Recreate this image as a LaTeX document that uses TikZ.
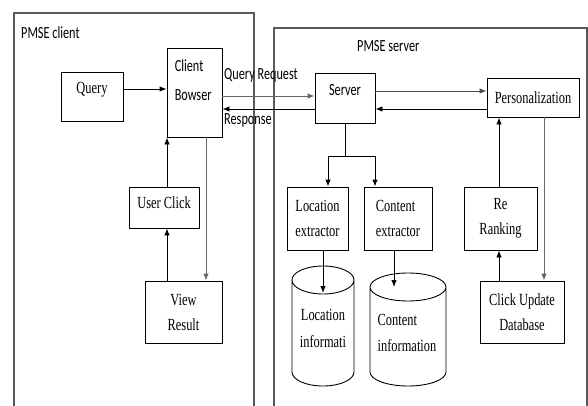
\documentclass[tikz,border=0pt]{standalone}
\usepackage{fontspec}
\setmainfont{Liberation Serif}[FakeStretch=0.73]
\newfontfamily\calibrifont{Carlito}[FakeStretch=0.72]
\usetikzlibrary{arrows.meta}

\tikzset{
	block/.style={draw, line width=0.9pt, fill=white, inner sep=2pt, align=center, font=\fontsize{17}{25}\selectfont},
	dbtext/.style={inner sep=0pt, align=center, font=\fontsize{17}{27}\selectfont},
	arr/.style={line width=0.9pt, -{Latex[length=7pt, width=5.5pt]}},
	frame/.style={draw=black!65, line width=1.2pt},
	tag/.style={inner sep=0pt, anchor=west, font=\calibrifont\fontsize{17}{19}\selectfont},
}

\begin{document}
\begin{tikzpicture}[x=1pt, y=1pt]
		\useasboundingbox (0, 0) rectangle (588, 405);

		\draw[frame] (14, -2) -- (14, 392) -- (254, 392) -- (254, -2);
		\draw[frame] (274, -2) -- (274, 377) -- (587, 377) -- (587, -2);
		\node[tag] (clienttag) at (21, 372) {PMSE client};
		\node[tag] (servertag) at (357, 359) {PMSE server};

		\node[block, minimum width=62, minimum height=49, text depth=17pt] (query) at (92, 308.5) {Query};
		\node[block, minimum width=55, minimum height=89] (browser) at (194.5, 312.5) {};
		\node[tag, anchor=north west, align=left, font=\calibrifont\fontsize{17}{29}\selectfont] (browsertext) at ([shift={(8, -12)}]browser.north west) {Client\\Bowser};
		\node[block, minimum width=70, minimum height=41, text depth=10pt] (click) at (164, 197.5) {User Click};
		\node[block, minimum width=77, minimum height=62] (view) at (183.5, 93) {View\\Result};

		\node[block, minimum width=60, minimum height=50, text depth=16pt, font=\calibrifont\fontsize{17}{19}\selectfont] (server) at (345, 307) {Server};
		\node[block, minimum width=92, minimum height=39] (person) at (533, 307.5) {Personalization};
		\node[block, minimum width=61, minimum height=63] (locext) at (317.5, 186.5) {Location\\extractor};
		\node[block, minimum width=68, minimum height=63, align=left] (conext) at (398, 186.5) {Content\\extractor};
		\node[block, minimum width=73, minimum height=63] (rerank) at (500.5, 186.5) {Re\\Ranking};
		\node[block, minimum width=84, minimum height=62] (clickdb) at (522, 93) {Click Update\\Database};

		% the two stores
		\draw[line width=0.9pt, fill=white] (292, 125) -- (292, 33) arc[start angle=180, end angle=360, x radius=31, y radius=14] -- (354, 125) arc[start angle=0, end angle=180, x radius=31, y radius=14] arc[start angle=180, end angle=360, x radius=31, y radius=14];
		\draw[line width=0.9pt, fill=white] (370, 118) -- (370, 33) arc[start angle=180, end angle=360, x radius=38, y radius=14] -- (446, 118) arc[start angle=0, end angle=180, x radius=38, y radius=14] arc[start angle=180, end angle=360, x radius=38, y radius=14];
		\coordinate (locin) at (323, 112);
		\coordinate (conin) at (394, 118);
		\node[dbtext] (locinfo) at (323, 76.5) {Location\\informati};
		\node[dbtext, align=left, font=\fontsize{17}{26}\selectfont] (coninfo) at (407, 72) {Content\\information};

		\draw[arr] ([yshift=7.5]query.east) -- ([yshift=3.5]browser.west);
		\draw[arr, black!60] ([yshift=-3.5]browser.east) -- ([yshift=2]server.west);
		\draw[arr] ([yshift=-11]server.west) -- ([yshift=-16.5]browser.east);
		\node[tag] (reqtag) at (224, 330) {Query Request};
		\node[tag] (resptag) at (224, 285) {Response};

		\draw[arr, black!70] ([yshift=7]server.east) -- ([yshift=6.5]person.west);
		\draw[arr] ([yshift=-11.5]person.west) -- ([yshift=-11]server.east);

		\draw[line width=0.9pt] (server.south) -- ++(0, -33) coordinate (split);
		\draw[arr] (split) -| ([xshift=10.5]locext.north);
		\draw[arr] (split) -| ([xshift=-23]conext.north);
		\draw[arr] ([xshift=5.5]locext.south) -- (locin);
		\draw[arr] ([xshift=-4]conext.south) -- (conin);

		\draw[arr] ([xshift=-1.5]rerank.north) -- ([xshift=-34]person.south);
		\draw[arr, black!60] ([xshift=11]person.south) -- ([xshift=22]clickdb.north);
		\draw[arr] ([xshift=-23]clickdb.north) -- ([xshift=-1.5]rerank.south);

		\draw[arr] ([xshift=3]click.north) -- ([xshift=-27.5]browser.south);
		\draw[arr] ([xshift=-16.5]view.north) -- ([xshift=3]click.south);
		\draw[arr, black!60] ([xshift=11.5]browser.south) -- ([xshift=22.5]view.north);
\end{tikzpicture}
\end{document}
